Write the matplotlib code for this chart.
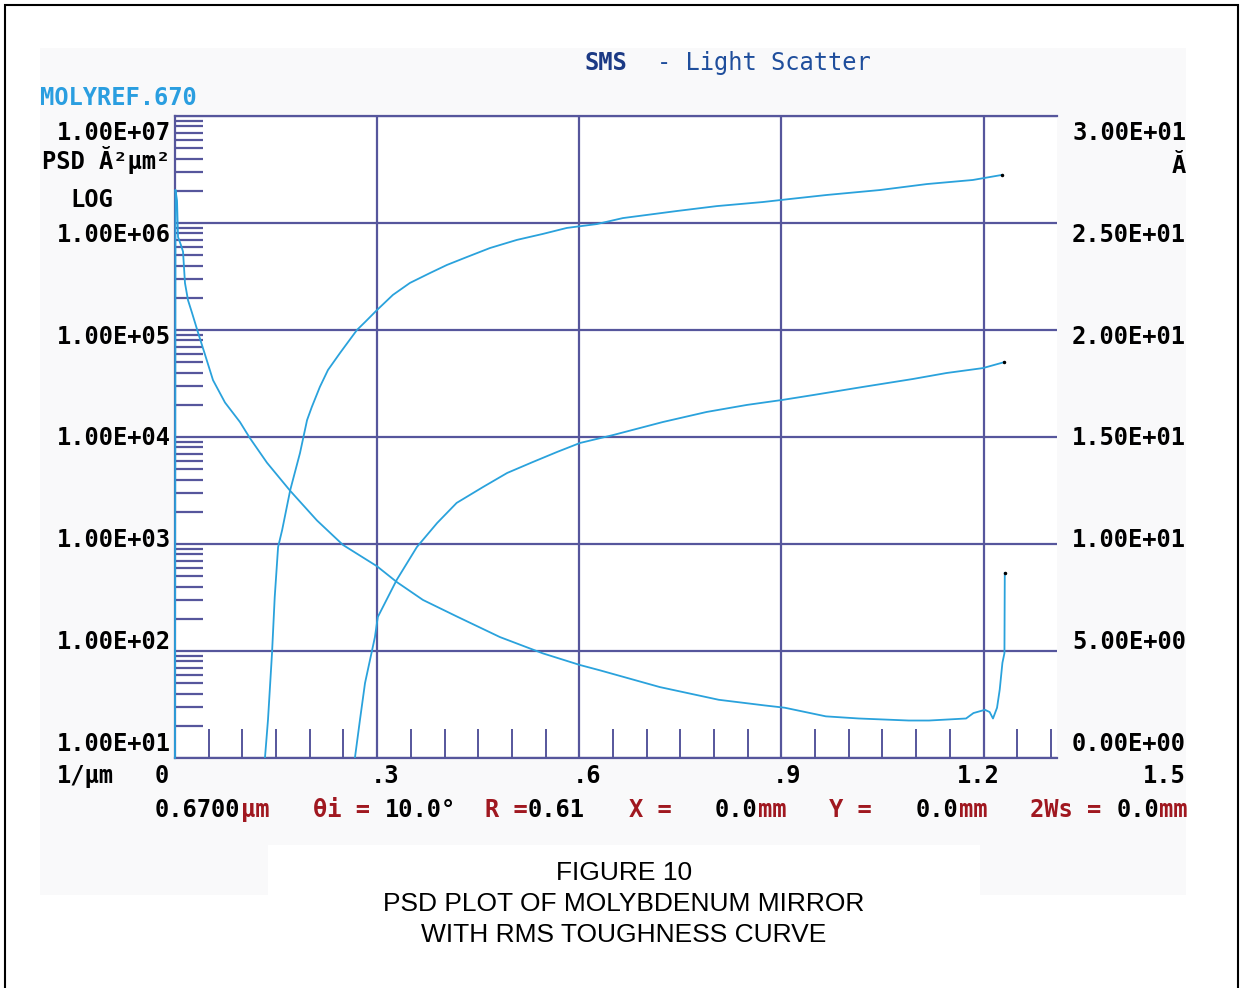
import matplotlib
matplotlib.use("Agg")
import matplotlib.pyplot as plt
import numpy as np
from matplotlib.patches import Rectangle
from matplotlib.ticker import LogLocator, NullFormatter

# PSD curve (left log axis)
psd_freq = [0.0, 0.0007, 0.003, 0.0045, 0.0089, 0.0119, 0.0148, 0.0193, 0.0252,
            0.0341, 0.0445, 0.0564, 0.0742, 0.0964, 0.111, 0.1365, 0.1706, 0.2107,
            0.2493, 0.2997, 0.3294, 0.368, 0.4184, 0.4822, 0.546, 0.6009, 0.6306,
            0.7196, 0.807, 0.875, 0.905, 0.966, 1.015, 1.089, 1.119, 1.174, 1.185,
            1.202, 1.209, 1.214, 1.220, 1.224, 1.228, 1.231, 1.2315]
psd_val = [10, 2.04e6, 1.62e6, 7.4e5, 6.2e5, 5.4e5, 2.75e5, 1.9e5, 1.45e5,
           9.5e4, 5.9e4, 3.4e4, 2.1e4, 1.38e4, 9.8e3, 5.75e3, 3.16e3, 1.66e3,
           980, 620, 440, 300, 210, 135, 95, 74, 66,
           46, 35, 31, 29.5, 24.5, 23.4, 22.4, 22.4, 23.4, 26.3,
           28.2, 26.9, 23.4, 29.5, 43.6, 77.6, 95.5, 537]

# RMS roughness curves (right axis, Angstrom)
rms1_freq = [0.1335, 0.138, 0.144, 0.148, 0.153, 0.159, 0.171, 0.1855, 0.196,
             0.203, 0.215, 0.227, 0.245, 0.270, 0.282, 0.2997, 0.3234, 0.3487,
             0.3783, 0.4036, 0.4332, 0.4674, 0.5074, 0.546, 0.5816, 0.626, 0.6647,
             0.7448, 0.8042, 0.8724, 0.9006, 0.9674, 1.046, 1.116, 1.184, 1.228]
rms1_val = [0, 1.78, 4.91, 7.52, 9.86, 10.65, 12.52, 14.25, 15.79,
            16.40, 17.34, 18.13, 18.93, 20.0, 20.37, 20.93, 21.64, 22.20,
            22.66, 23.04, 23.41, 23.83, 24.21, 24.49, 24.77, 24.95, 25.23,
            25.56, 25.79, 25.98, 26.08, 26.31, 26.54, 26.82, 27.01, 27.25]

rms2_freq = [0.267, 0.2745, 0.282, 0.2967, 0.301, 0.329, 0.359, 0.389, 0.418,
             0.457, 0.493, 0.531, 0.567, 0.601, 0.650, 0.724, 0.789, 0.849,
             0.901, 0.947, 1.021, 1.095, 1.145, 1.199, 1.231]
rms2_val = [0, 1.78, 3.50, 5.65, 6.59, 8.32, 9.86, 10.98, 11.92,
            12.66, 13.32, 13.83, 14.30, 14.72, 15.09, 15.70, 16.17, 16.50,
            16.73, 16.96, 17.34, 17.71, 17.99, 18.22, 18.50]

left_labels = ["1.00E+07", "1.00E+06", "1.00E+05", "1.00E+04",
               "1.00E+03", "1.00E+02", "1.00E+01"]
right_labels = ["3.00E+01", "2.50E+01", "2.00E+01", "1.50E+01",
                "1.00E+01", "5.00E+00", "0.00E+00"]
x_labels = ["0", ".3", ".6", ".9", "1.2", "1.5"]
x_label_px = [162, 385, 587, 787, 978, 1164]

GRID = "#56569c"
CURVE = "#2aa2dc"
RED = "#a01820"
MONO = ["DejaVu Sans Mono"]
FS = 17.15
CW = 14.35  # width of one character cell in pixels

plt.rcParams["font.family"] = MONO

W, H = 1243, 988
fig = plt.figure(figsize=(W / 100, H / 100), dpi=100)


def px(x, y):
    return x / W, 1 - y / H


def ftext(x, y, s, **kw):
    kw.setdefault("fontsize", FS)
    kw.setdefault("va", "center")
    kw.setdefault("fontweight", "bold")
    fig.text(*px(x, y), s, **kw)


def frect(x0, y0, x1, y1, **kw):
    fig.patches.append(Rectangle(px(x0, y1), (x1 - x0) / W, (y1 - y0) / H,
                                 transform=fig.transFigure, **kw))


# background panel, caption box and outer frame
frect(40, 48, 1186, 895, facecolor="#f9f9fa", edgecolor="none", zorder=-10)
frect(268, 845, 980, 895, facecolor="white", edgecolor="none", zorder=-9)
frect(5, 5, 1238, 1010, facecolor="none", edgecolor="black", lw=1.5, zorder=-5)

ax = fig.add_axes([175 / W, 1 - 758 / H, (1057 - 175) / W, (758 - 116) / H])
ax.set_facecolor("white")
ax.set_yscale("log")
ax.set_ylim(10, 1e7)
ax.set_xlim(0, 1.309)

ax.set_yticks([10.0 ** k for k in range(1, 8)])
ax.yaxis.set_minor_locator(LogLocator(base=10, subs=np.arange(2, 10)))
ax.yaxis.set_minor_formatter(NullFormatter())
ax.tick_params(axis="y", which="major", length=0, labelleft=False)
ax.tick_params(axis="y", which="minor", direction="in", length=20,
               width=1.6, color=GRID)

ax.set_xticks([0.3, 0.6, 0.9, 1.2])
ax.set_xticks(np.arange(0.05, 1.31, 0.05), minor=True)
ax.tick_params(axis="x", which="major", length=0, labelbottom=False)
ax.tick_params(axis="x", which="minor", direction="in", length=21,
               width=1.4, color=GRID)
ax.grid(True, which="major", color=GRID, lw=1.6)
ax.set_axisbelow(True)

ax.spines["right"].set_visible(False)
for side in ["top", "bottom", "left"]:
    ax.spines[side].set_color(GRID)
    ax.spines[side].set_linewidth(1.6)

ax.plot(psd_freq, psd_val, color=CURVE, lw=1.3, clip_on=False, zorder=3)
ax.plot(psd_freq[-1], psd_val[-1], ".", color="black", ms=3, zorder=4)

ax2 = ax.twinx()
ax2.set_ylim(0, 30)
ax2.tick_params(length=0, labelright=False)
for side in ax2.spines:
    ax2.spines[side].set_visible(False)
ax2.plot(rms1_freq, rms1_val, color=CURVE, lw=1.3)
ax2.plot(rms2_freq, rms2_val, color=CURVE, lw=1.3)
ax2.plot([rms1_freq[-1], rms2_freq[-1]], [rms1_val[-1], rms2_val[-1]], ".",
         color="black", ms=3)

# title and header
ftext(585, 63, "SMS", color="#1c3a85")
ftext(585 + 5 * CW, 63, "- Light Scatter", color="#1f4e9c", fontweight="normal")
ftext(40, 98, "MOLYREF.670", color="#2a9ee0")

# left axis labels
for i, lab in enumerate(left_labels):
    ftext(171, 133 + i * 101.8, lab, ha="right")
ftext(42, 160, "PSD Ă²µm²")
ftext(70, 200, "LOG")

# right axis labels
for i, lab in enumerate(right_labels):
    ftext(1186, 133 + i * 101.8, lab, ha="right")
ftext(1186, 166, "Ă", ha="right")

# x axis labels
ftext(57, 776, "1/µm")
for lab, xp in zip(x_labels, x_label_px):
    ftext(xp, 776, lab, ha="center")

# measurement info line (monospace cell grid)
info = [("0.6700", "black", 0), ("µm", RED, 6), ("θi =", RED, 11),
        ("10.0°", "black", 16), ("R =", RED, 23), ("0.61", "black", 26),
        ("X =", RED, 33), ("0.0", "black", 39), ("mm", RED, 42),
        ("Y =", RED, 47), ("0.0", "black", 53), ("mm", RED, 56),
        ("2Ws =", RED, 61), ("0.0", "black", 67), ("mm", RED, 70)]
for s, c, col in info:
    ftext(155 + col * CW, 810, s, color=c)

# caption
for yy, s in [(873, "FIGURE 10"), (904, "PSD PLOT OF MOLYBDENUM MIRROR"),
              (935, "WITH RMS TOUGHNESS CURVE")]:
    ftext(624, yy, s, ha="center", fontsize=19, fontweight="normal",
          family=["Liberation Sans"])

plt.savefig("out.png", dpi=100)
